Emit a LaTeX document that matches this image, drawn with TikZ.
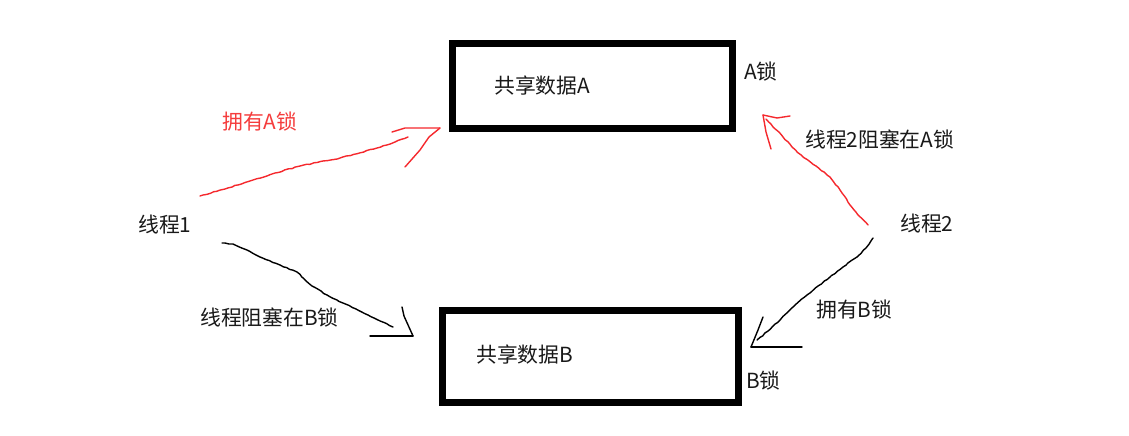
\documentclass[tikz,border=0pt]{standalone}
\usepackage{fontspec}
\setmainfont{Noto Sans CJK SC}
\usetikzlibrary{decorations.pathmorphing}
\definecolor{inkred}{RGB}{245,40,45}
\definecolor{txt}{RGB}{25,25,25}
\definecolor{txtred}{RGB}{245,60,60}
\begin{document}
\begin{tikzpicture}[x=1pt,y=-1pt,
  databox/.style={draw=black,line width=7pt},
  lbl/.style={anchor=west,inner sep=0pt,text=txt,font=\fontsize{20.8}{25}\selectfont},
  redlbl/.style={lbl,text=txtred},
  hand/.style={line width=1.4pt,line cap=round,line join=round,
    decorate,decoration={random steps,segment length=3.5pt,amplitude=0.45pt}},
  redhand/.style={hand,draw=inkred},
  blackhand/.style={hand,draw=black},
  barb/.style={line width=1.4pt,line cap=round,line join=round}]
\useasboundingbox (0,0) rectangle (1129,436);
\fill[white] (0,0) rectangle (1129,436);
% boxes
\draw[databox] (452.5,43.5) rectangle (732.5,128.5);
\draw[databox] (442,310) rectangle (738.5,402);
\node[lbl] (dataA) at (494,86) {共享数据A};
\node[lbl] (dataB) at (476,355) {共享数据B};
\node[lbl] (lockA) at (744,72) {A锁};
\node[lbl] (lockB) at (746,381) {B锁};
\node[lbl] (t1) at (138,225) {线程1};
\node[lbl] (t2) at (900,224) {线程2};
\node[redlbl] (hasA) at (222,122) {拥有A锁};
\node[lbl] (waitA) at (805,140) {线程2阻塞在A锁};
\node[lbl] (waitB) at (200,318) {线程阻塞在B锁};
\node[lbl] (hasB) at (816,310) {拥有B锁};
% arrow coordinates
\coordinate (r1s) at (200,196);
\coordinate (r1t) at (440,128);
\coordinate (r2s) at (868,225);
\coordinate (r2t) at (763,115);
\coordinate (b1s) at (222,243);
\coordinate (b1t) at (413,336);
\coordinate (b2s) at (873,238);
\coordinate (b2t) at (751,347);
% red arrow thread1 -> A
\draw[redhand] (r1s) -- (225,189) -- (250,181) -- (275,173) -- (300,166) -- (340,158) -- (377,148) -- (395,142) -- (408,137);
\draw[barb,inkred] (r1t) -- (405,128) -- (392,132);
\draw[barb,inkred] (r1t) -- (429,137) -- (420,150) -- (405,167);
% red arrow thread2 -> A
\draw[redhand] (r2s) -- (858,215) -- (850,205) -- (840,190) -- (830,177) -- (816,166) -- (803,157) -- (792,147) -- (783,137) -- (766,119);
\draw[barb,inkred] (r2t) -- (777,118) -- (790,116);
\draw[barb,inkred] (r2t) -- (766,132) -- (771,149);
% black arrow thread1 -> B
\draw[blackhand] (b1s) -- (233,244) -- (247,250) -- (260,257) -- (280,265) -- (297,272) -- (312,286) -- (327,295) -- (343,303) -- (368,315) -- (393,327);
\draw[barb] (b1t) -- (404,316) -- (402,307);
\draw[barb] (b1t) -- (370,336);
% black arrow thread2 -> B
\draw[blackhand] (b2s) -- (866,248) -- (857,257) -- (843,267) -- (830,277) -- (807,295) -- (793,307) -- (780,320) -- (768,331) -- (757,340);
\draw[barb] (b2t) -- (758,330) -- (763,317);
\draw[barb] (b2t) -- (802,347);
\end{tikzpicture}
\end{document}
